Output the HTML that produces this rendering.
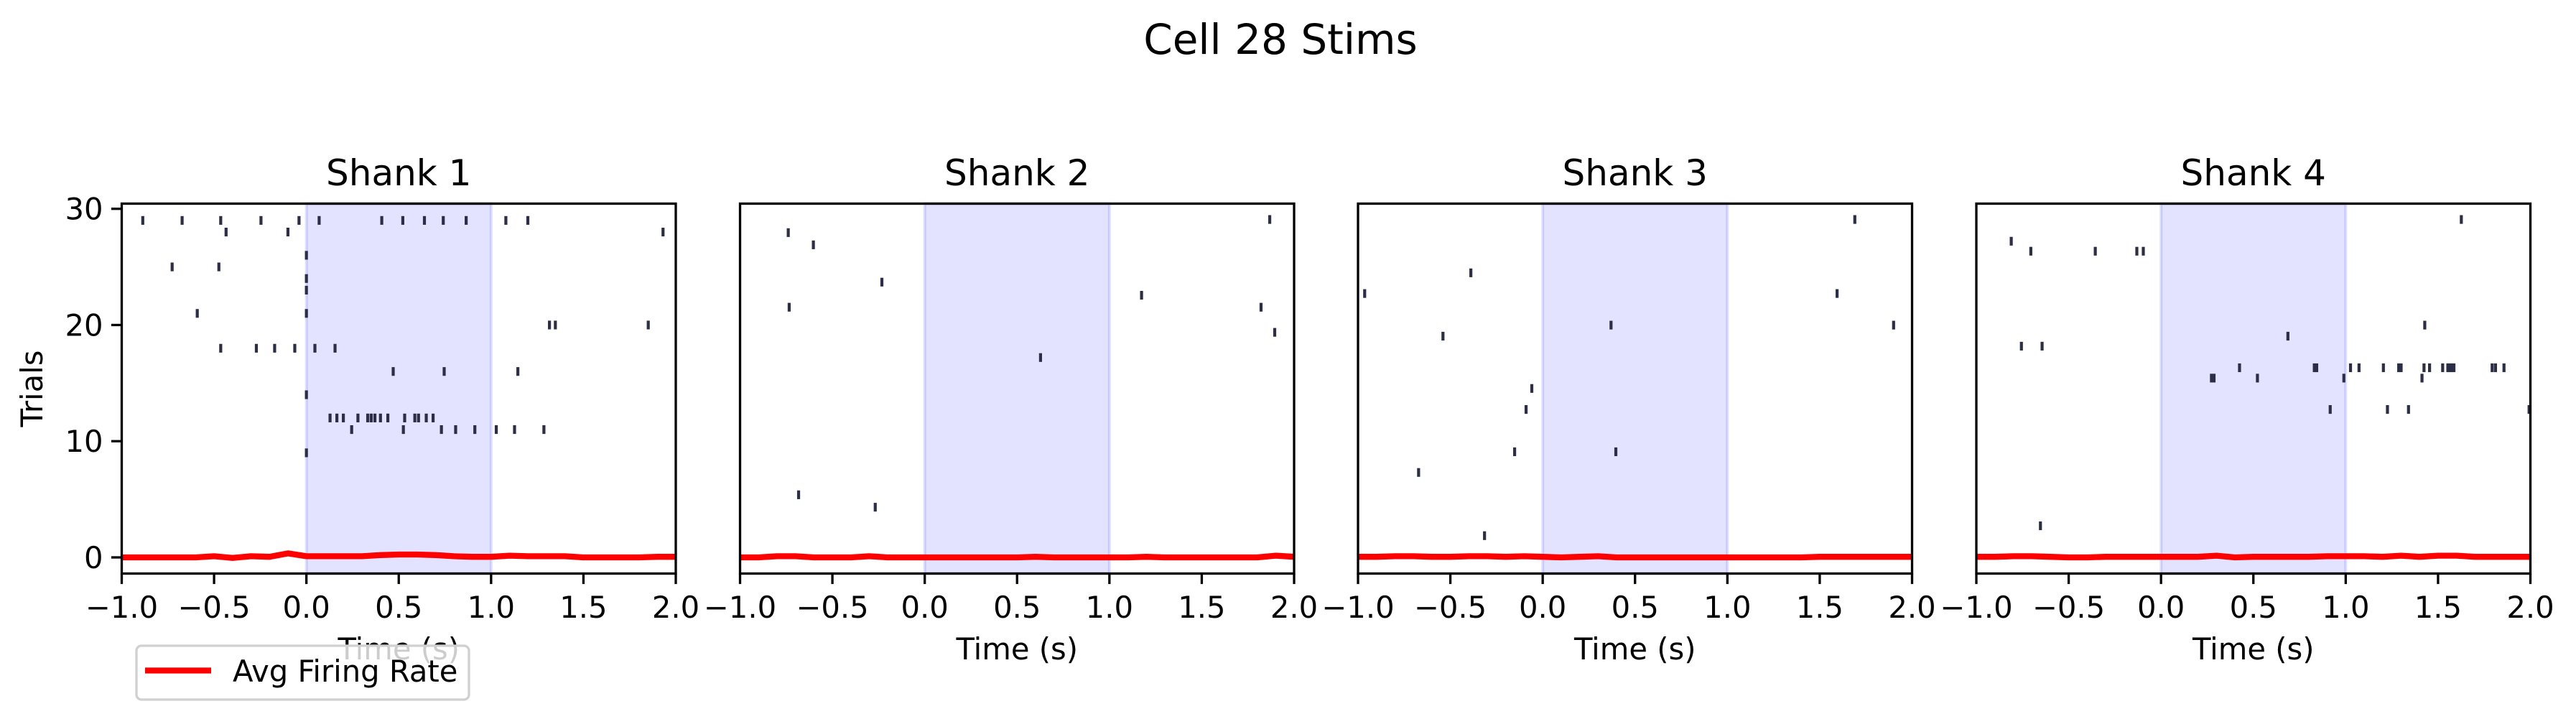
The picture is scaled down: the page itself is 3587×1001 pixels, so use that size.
<!DOCTYPE html>
<html><head><meta charset="utf-8"><title>Cell 28 Stims</title>
<style>
html,body{margin:0;padding:0;background:#fff;width:3587px;height:1001px;overflow:hidden}
svg{display:block;font-family:"DejaVu Sans","Liberation Sans",sans-serif}
</style></head>
<body>
<svg id="fig" width="3587" height="1001" viewBox="0 0 3587 1001" xmlns="http://www.w3.org/2000/svg">
<rect width="3587" height="1001" fill="#fff"/>
<text x="1783" y="75" font-size="58" text-anchor="middle" fill="#000">Cell 28 Stims</text>
</svg>
<script>
// ---- data ----
const panelTitles = ["Shank 1","Shank 2","Shank 3","Shank 4"];
const xTicks = [-1.0,-0.5,0.0,0.5,1.0,1.5,2.0];
const xTickLabels = ["\u22121.0","\u22120.5","0.0","0.5","1.0","1.5","2.0"];
const yTicks = [0,10,20,30];
const yTickLabels = ["0","10","20","30"];
const stimWindow = [0,1];
const rateTimes = [-1,-0.9,-0.8,-0.7,-0.6,-0.5,-0.4,-0.3,-0.2,-0.1,0,0.1,0.2,0.3,0.4,0.5,0.6,0.7,0.8,0.9,1,1.1,1.2,1.3,1.4,1.5,1.6,1.7,1.8,1.9,2];
const rate1 = [0,0,0,0,0,0.1,-0.05,0.1,0.05,0.35,0.1,0.1,0.1,0.1,0.2,0.25,0.25,0.2,0.1,0.05,0.05,0.15,0.1,0.1,0.1,0,0,0,0,0.05,0.05];
const rate2 = [0,0,0.1,0.1,0,0,0,0.1,0,0,0,0,0,0,0,0,0.05,0,0,0,0,0,0.05,0,0,0,0,0,0,0.15,0.05];
const rate3 = [0.05,0.05,0.1,0.1,0.05,0.05,0.1,0.1,0.05,0.1,0.05,0,0.05,0.1,0,0,0,0,0,0,0,0,0,0,0,0.05,0.05,0.05,0.05,0.05,0.05];
const rate4 = [0.05,0.05,0.1,0.1,0.05,0,0,0.05,0.05,0.05,0.05,0.05,0.05,0.15,0,0.05,0.05,0.05,0.05,0.1,0.1,0.1,0.05,0.15,0.05,0.15,0.15,0.05,0.05,0.05,0.05];
const trials1 = [29,28,26,25,24,23,21,20,18,16,14,12,11,9];
const spikes1 = [
 [-0.886,-0.673,-0.464,-0.246,-0.04,0.069,0.408,0.522,0.639,0.741,0.865,1.08,1.199],
 [-0.435,-0.1,1.931],[0],[-0.727,-0.474],[0],[0],[-0.591,0],[1.316,1.348,1.851],
 [-0.464,-0.271,-0.172,-0.063,0.046,0.155],[0.47,0.746,1.145],[0],
 [0.128,0.165,0.2,0.279,0.332,0.351,0.371,0.401,0.441,0.532,0.587,0.607,0.649,0.686],
 [0.245,0.525,0.731,0.808,0.912,1.028,1.127,1.286],[0]];
const trials2 = [29.08,27.95,26.9,23.69,22.56,21.53,19.37,17.2,5.39,4.32];
const spikes2 = [[1.868],[-0.739],[-0.603],[-0.232],[1.174],[-0.734,1.821],[1.895],[0.627],[-0.683],[-0.268]];
const trials3 = [29.08,24.49,22.71,19.99,19.04,14.54,12.73,9.09,7.31,1.87];
const spikes3 = [[1.69],[-0.389],[-0.964,1.594],[0.37,1.9],[-0.54],[-0.059],[-0.09],[-0.152,0.396],[-0.672],[-0.315]];
const trials4 = [29.08,27.21,26.35,19.99,19.04,18.18,16.32,15.43,12.73,2.72];
const spikes4 = [[1.626],[-0.811],[-0.705,-0.356,-0.131,-0.096],[1.428],[0.687],[-0.756,-0.644],
 [0.425,0.83,0.843,1.026,1.072,1.204,1.287,1.3,1.424,1.454,1.525,1.553,1.564,1.575,1.586,1.793,1.811,1.857],
 [0.273,0.287,0.522,0.99,1.413],[0.916,1.226,1.34,1.993],[-0.653]];
const allTrials = [trials1,trials2,trials3,trials4];
const allSpikes = [spikes1,spikes2,spikes3,spikes4];
const allRates = [rate1,rate2,rate3,rate4];

// ---- layout ----
const NS = "http://www.w3.org/2000/svg";
const svg = document.getElementById("fig");
const panelLefts = [169.5,1030.5,1891,2752];
const PW = 771.5, TOP = 283.5, BOT = 798.5;
const X0 = -1, X1 = 2, Y0 = -1.39, Y1 = 30.445;
function mk(tag, attrs, parent){ const e=document.createElementNS(NS,tag); for(const k in attrs) e.setAttribute(k,attrs[k]); (parent||svg).appendChild(e); return e; }
function yS(v){ return BOT - (v - Y0)/(Y1 - Y0)*(BOT-TOP); }

panelTitles.forEach((title, p) => {
  const L = panelLefts[p];
  const xS = v => L + (v - X0)/(X1 - X0)*PW;
  const g = mk("g", {});
  
  
  const span = mk("rect", {x:xS(stimWindow[0]), y:TOP, width:xS(stimWindow[1])-xS(stimWindow[0]), height:BOT-TOP, fill:"rgba(0,0,255,0.11)", stroke:"rgba(0,0,255,0.12)", "stroke-width":4}, g);
  
  
  allTrials[p].forEach((tr, i) => {
    allSpikes[p][i].forEach(t => {
      const ln = mk("line", {x1:xS(t), x2:xS(t), y1:yS(tr+0.375), y2:yS(tr-0.375), stroke:"#2b2e45", "stroke-width":4.2}, g);
      
      
    });
  });
  const pts = rateTimes.map((t,i) => xS(t).toFixed(1)+","+yS(allRates[p][i]).toFixed(1)).join(" ");
  const pl = mk("polyline", {points:pts, fill:"none", stroke:"#ff0000", "stroke-width":8.3, "stroke-linejoin":"round"}, g);
  
  
  const fr = mk("rect", {x:L, y:TOP, width:PW, height:BOT-TOP, fill:"none", stroke:"#000", "stroke-width":3.3}, g);
  
  
  xTicks.forEach((v,i) => {
    const tk = mk("line", {x1:xS(v), x2:xS(v), y1:BOT, y2:BOT+14.6, stroke:"#000", "stroke-width":3.3}, g);
    
    
    const tl = mk("text", {x:xS(v), y:860, "font-size":41.7, "text-anchor":"middle", fill:"#000"}, g);
    tl.textContent = xTickLabels[i];
    
    
  });
  const xl = mk("text", {x:L+PW/2, y:918, "font-size":41.7, "text-anchor":"middle", fill:"#000"}, g);
  xl.textContent = "Time (s)";
  
  
  const tt = mk("text", {x:L+PW/2, y:258, "font-size":50, "text-anchor":"middle", fill:"#000"}, g);
  tt.textContent = title;
  
  
  if (p === 0) {
    yTicks.forEach((v,i) => {
      const tk = mk("line", {x1:L-14.6, x2:L, y1:yS(v), y2:yS(v), stroke:"#000", "stroke-width":3.3}, g);
      
      
      const tl = mk("text", {x:L-26, y:yS(v)+15, "font-size":41.7, "text-anchor":"end", fill:"#000"}, g);
      tl.textContent = yTickLabels[i];
      
      
    });
    const yl = mk("text", {x:0, y:0, "font-size":41.7, "text-anchor":"middle", fill:"#000", transform:"translate(59,541) rotate(-90)"}, g);
    yl.textContent = "Trials";
    
    
  }
});

const lg = mk("g", {});


const lb = mk("rect", {x:190, y:899, width:463, height:75, rx:7, fill:"rgba(255,255,255,0.8)", stroke:"#d0d0d0", "stroke-width":3.3}, lg);


const ll = mk("line", {x1:202, x2:294, y1:933.5, y2:933.5, stroke:"#ff0000", "stroke-width":8.3}, lg);


const lt = mk("text", {x:324, y:949, "font-size":41.7, fill:"#000"}, lg);
lt.textContent = "Avg Firing Rate";


</script>
</body></html>
